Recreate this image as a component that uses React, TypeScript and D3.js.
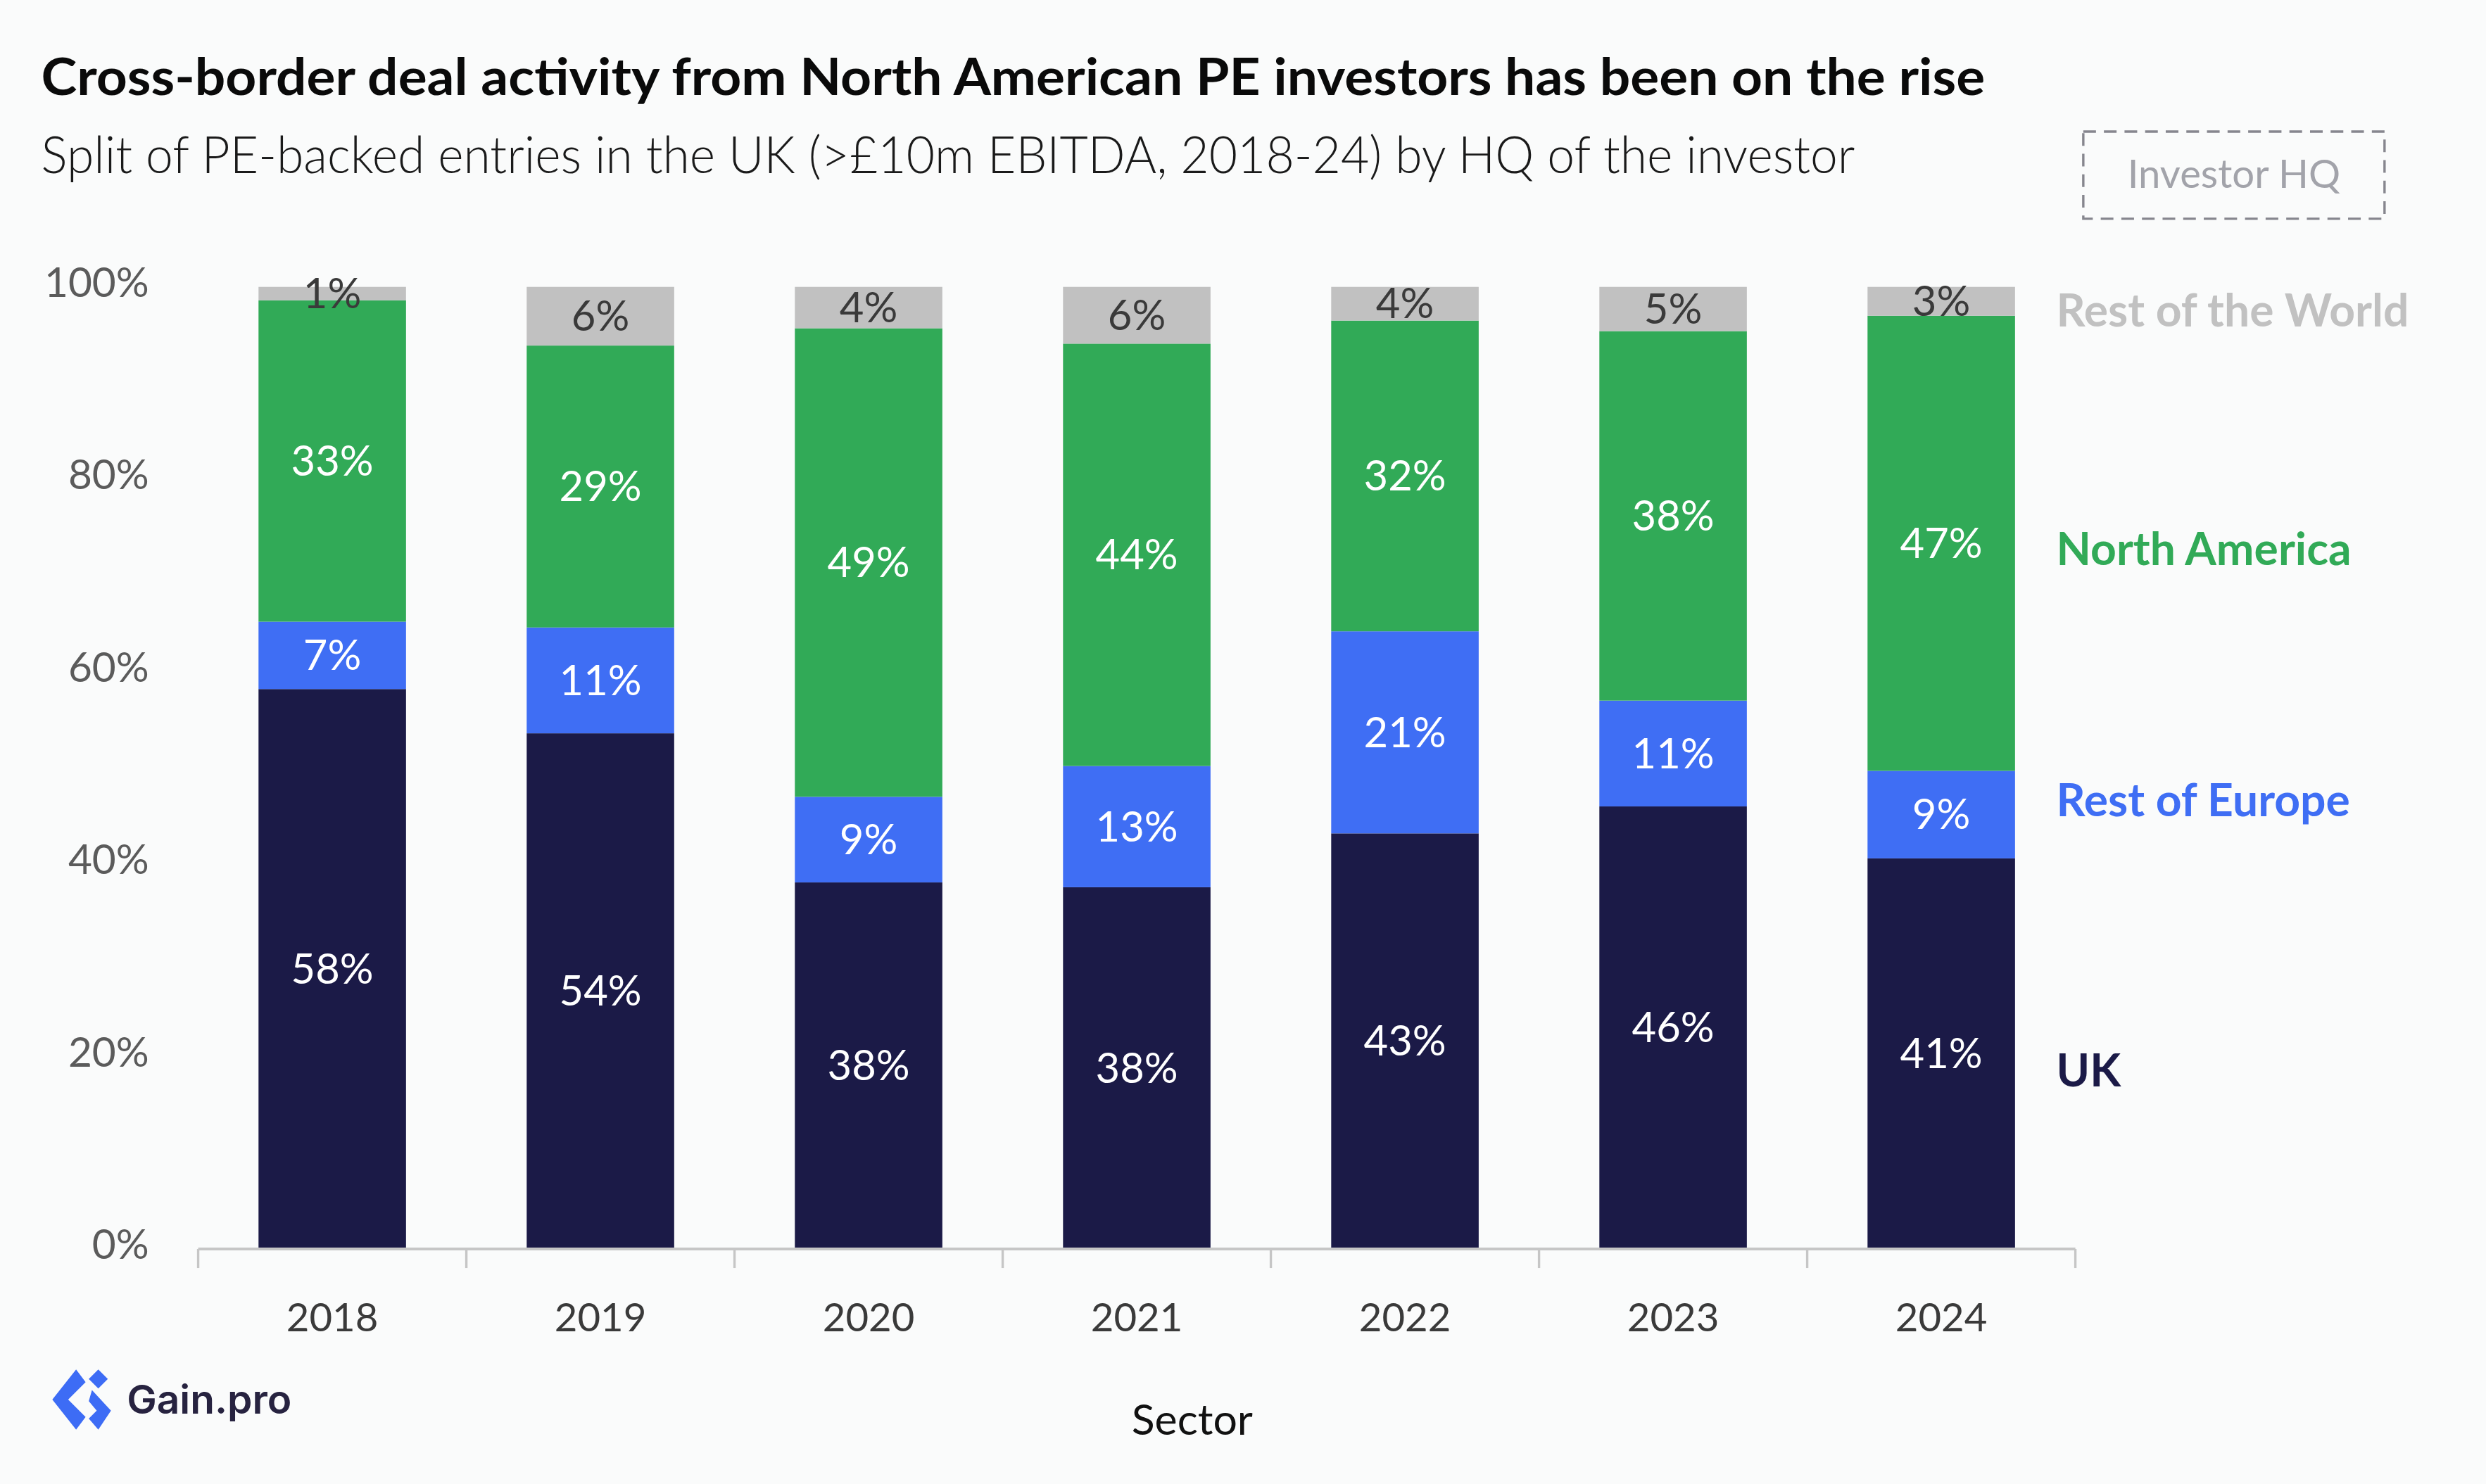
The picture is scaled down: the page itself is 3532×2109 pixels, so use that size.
import { scaleBand, scaleLinear, stack } from "d3";

// working units follow a 1568-wide layout, scaled up to the 3532px canvas
const W = 1568;
const H = (1568 * 2109) / 3532;

const years = ["2018", "2019", "2020", "2021", "2022", "2023", "2024"];
const ukShare = [58.2, 53.6, 38.1, 37.6, 43.2, 46.0, 40.6];
const restOfEuropeShare = [7.0, 11.0, 8.9, 12.6, 21.0, 11.0, 9.1];
const northAmericaShare = [33.4, 29.3, 48.7, 43.9, 32.3, 38.4, 47.3];
const restOfWorldShare = [1.4, 6.1, 4.3, 5.9, 3.5, 4.6, 3.0];
const yTicks = [0, 20, 40, 60, 80, 100];

// dy nudges the right-hand series name off the middle of the last segment
const series = [
  { key: "uk", name: "UK", color: "#1b1a47", text: "#ffffff", dy: 10 },
  { key: "roe", name: "Rest of Europe", color: "#3f6ef4", text: "#ffffff", dy: -10 },
  { key: "na", name: "North America", color: "#31aa57", text: "#ffffff", dy: 3 },
  { key: "row", name: "Rest of the World", color: "#c1c1c1", text: "#3a3a3a", dy: 5 },
];

const rows = years.map((year, i) => ({
  year,
  uk: ukShare[i],
  roe: restOfEuropeShare[i],
  na: northAmericaShare[i],
  row: restOfWorldShare[i],
}));

const margin = { left: 125, right: 1309, top: 181, bottom: 788 };
const font = "Lato, 'Noto Sans', sans-serif";

const Logo = () => (
  <g>
    <g fill="#3d6cf5">
      <polygon points="48,864 54,872 43,883 54,894 48,902 33,883" />
      <polygon points="62,864 68,870 62,876 56,870" />
      <polygon points="58,877 70,890 62,902 56,895 61,890 56,884" />
    </g>
    <text
      x={80}
      y={892}
      fontFamily="Inter, sans-serif"
      fontWeight={600}
      fontSize={25}
      fill="#272340"
      textLength={104}
      lengthAdjust="spacingAndGlyphs"
    >
      Gain.pro
    </text>
  </g>
);

const App = () => {
  const x = scaleBand()
    .domain(years)
    .range([margin.left, margin.right])
    .paddingInner(0.45)
    .paddingOuter(0.225);
  const y = scaleLinear().domain([0, 100]).range([margin.bottom, margin.top]);

  const stacked = stack<any>().keys(series.map((s) => s.key))(rows);
  const step = x.step();
  const boundaries = years.map((yr) => (x(yr) as number) - (step - x.bandwidth()) / 2);
  boundaries.push(margin.right);

  const lastYear = years[years.length - 1];

  return (
    <svg
      width={3532}
      height={2109}
      viewBox={`0 0 ${W} ${H}`}
      style={{ position: "absolute", left: 0, top: 0, display: "block" }}
      fontFamily={font}
    >
      <rect x={0} y={0} width={W} height={H} fill="#fafbfb" />

      <text
        x={26}
        y={60}
        fontSize={32}
        fontWeight={700}
        fill="#0a0a0a"
        textLength={1226}
        lengthAdjust="spacingAndGlyphs"
      >
        Cross-border deal activity from North American PE investors has been on the rise
      </text>
      <text
        x={26}
        y={109}
        fontSize={32}
        fontWeight={300}
        fill="#1a1a1a"
        textLength={1144}
        lengthAdjust="spacingAndGlyphs"
      >
        Split of PE-backed entries in the UK (&gt;£10m EBITDA, 2018-24) by HQ of the investor
      </text>

      <rect
        x={1314}
        y={83}
        width={190}
        height={55}
        fill="none"
        stroke="#86868e"
        strokeWidth={1.5}
        strokeDasharray="8 5"
      />
      <text x={1409} y={118.5} fontSize={25} textAnchor="middle" fill="#a2a3aa">
        Investor HQ
      </text>

      {yTicks.map((t) => (
        <text
          key={t}
          x={94}
          y={y(t) - 4}
          fontSize={26}
          textAnchor="end"
          dominantBaseline="central"
          fill="#5b5b5b"
        >
          {`${t}%`}
        </text>
      ))}

      {stacked.map((layer, si) => (
        <g key={layer.key}>
          {layer.map((d, i) => (
            <rect
              key={years[i]}
              x={x(years[i])}
              y={y(d[1])}
              width={x.bandwidth()}
              height={y(d[0]) - y(d[1])}
              fill={series[si].color}
            />
          ))}
        </g>
      ))}

      {stacked.map((layer, si) => (
        <g key={`lbl-${layer.key}`}>
          {layer.map((d, i) => (
            <text
              key={years[i]}
              x={(x(years[i]) as number) + x.bandwidth() / 2}
              y={(y(d[0]) + y(d[1])) / 2 - 1}
              fontSize={26.5}
              textAnchor="middle"
              dominantBaseline="central"
              fill={series[si].text}
            >
              {`${Math.round(d[1] - d[0])}%`}
            </text>
          ))}
        </g>
      ))}

      <line
        x1={margin.left}
        x2={margin.right}
        y1={margin.bottom}
        y2={margin.bottom}
        stroke="#c6c6c6"
        strokeWidth={1.8}
      />
      {boundaries.map((bx, i) => (
        <line
          key={i}
          x1={bx}
          x2={bx}
          y1={margin.bottom}
          y2={margin.bottom + 12}
          stroke="#c6c6c6"
          strokeWidth={1.5}
        />
      ))}
      {years.map((yr) => (
        <text
          key={yr}
          x={(x(yr) as number) + x.bandwidth() / 2}
          y={840}
          fontSize={25}
          textAnchor="middle"
          fill="#3a3a3a"
        >
          {yr}
        </text>
      ))}

      <text x={752} y={905} fontSize={27} textAnchor="middle" fill="#111111">
        Sector
      </text>

      {stacked.map((layer, si) => {
        const d = layer[years.indexOf(lastYear)];
        return (
          <text
            key={`series-${layer.key}`}
            x={1297}
            y={(y(d[0]) + y(d[1])) / 2 + series[si].dy}
            fontSize={28.5}
            fontWeight={700}
            dominantBaseline="central"
            fill={series[si].color}
          >
            {series[si].name}
          </text>
        );
      })}

      <Logo />
    </svg>
  );
};

export default App;
